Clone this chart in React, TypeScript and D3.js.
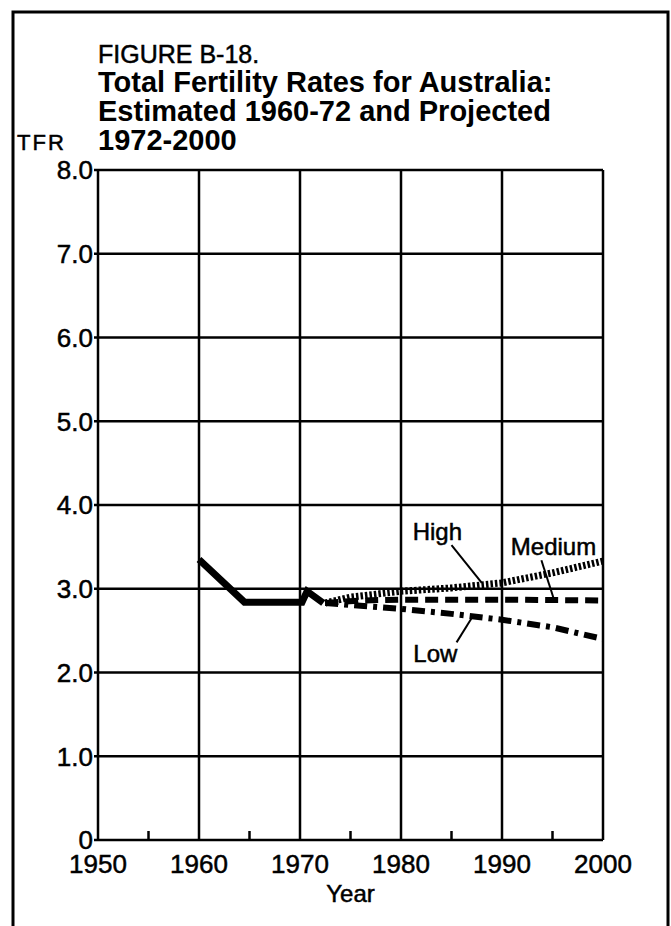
import React from 'react';
import * as d3 from 'd3';

const xTicks = [1950, 1960, 1970, 1980, 1990, 2000];
const xMinorTicks = [1955, 1965, 1975, 1985, 1995];
const yTicks = [0, 1, 2, 3, 4, 5, 6, 7, 8];

// estimated 1960-72
const estYears = [1960, 1964.5, 1970.2, 1970.7, 1972.3];
const estTFR = [3.35, 2.84, 2.84, 2.97, 2.83];

// projections 1972-2000
const highYears = [1972.5, 1975, 1980, 1985, 1990, 1995, 2000];
const highTFR = [2.83, 2.9, 2.97, 3.01, 3.07, 3.19, 3.33];
const medYears = [1972.5, 1976, 1980, 1990, 2000];
const medTFR = [2.83, 2.86, 2.87, 2.87, 2.86];
const lowYears = [1972.5, 1980, 1985, 1990, 1995, 2000];
const lowTFR = [2.83, 2.76, 2.7, 2.63, 2.54, 2.4];

// series labels: text position and leader line (year, tfr)
const labelNames = ['High', 'Medium', 'Low'];
const labelAt = [[1983.6, 3.58], [1995.1, 3.4], [1983.4, 2.12]];
const leaderFrom = [[1985.0, 3.52], [1993.9, 3.34], [1985.5, 2.36]];
const leaderTo = [[1988.0, 3.07], [1995.1, 2.89], [1987.0, 2.65]];

const titleLines = ['Total Fertility Rates for Australia:', 'Estimated 1960-72 and Projected', '1972-2000'];

const font = '"Liberation Sans", Arial, Helvetica, sans-serif';

const App = () => {
  const width = 671;
  const height = 926;
  const margin = { top: 170, left: 98, right: 68, bottom: 86 };

  const x = d3.scaleLinear().domain([1950, 2000]).range([margin.left, width - margin.right]);
  const y = d3.scaleLinear().domain([0, 8]).range([height - margin.bottom, margin.top]);

  const lineGen = d3.line<[number, number]>()
    .x(d => x(d[0]))
    .y(d => y(d[1]));

  const zip = (xs: number[], ys: number[]) => xs.map((v, i) => [v, ys[i]] as [number, number]);

  const series = [
    { pts: zip(estYears, estTFR), w: 7, dash: null },
    { pts: zip(lowYears, lowTFR), w: 6, dash: '13,6,4,6' },
    { pts: zip(medYears, medTFR), w: 6, dash: '13,7' },
    { pts: zip(highYears, highTFR), w: 7, dash: '2.5,2' },
  ];

  const [x0, x1] = x.range();
  const [yb, yt] = y.range();

  // scanned print looks heavier than plain regular weight
  const ink = { fill: '#000', stroke: '#000', strokeWidth: 0.5 };

  return (
    <svg width={width} height={height} style={{ position: 'absolute', left: 0, top: 0, background: '#fff' }}
      fontFamily={font}>
      {/* outer frame */}
      <rect x={13} y={12} width={655} height={940} fill="none" stroke="#000" strokeWidth={3} />

      {/* title */}
      <text x={x0} y={63} fontSize={25} {...ink}>FIGURE B-18.</text>
      {titleLines.map((t, i) => (
        <text key={t} x={x0} y={92 + i * 29} fontSize={29} fontWeight="bold" fill="#000">{t}</text>
      ))}
      <text x={17} y={150} fontSize={22} letterSpacing={2} {...ink}>TFR</text>

      {/* grid */}
      {yTicks.map(t => (
        <line key={'h' + t} x1={x0 - 4} x2={x1} y1={y(t)} y2={y(t)} stroke="#000" strokeWidth={2.5} />
      ))}
      {xTicks.map(t => (
        <line key={'v' + t} x1={x(t)} x2={x(t)} y1={yb} y2={yt} stroke="#000" strokeWidth={2.5} />
      ))}
      {xMinorTicks.map(t => (
        <line key={'m' + t} x1={x(t)} x2={x(t)} y1={yb} y2={yb - 9} stroke="#000" strokeWidth={2.5} />
      ))}

      {/* y labels */}
      {yTicks.map(t => (
        <text key={'yl' + t} x={x0 - 5} y={y(t)} dy="0.36em" textAnchor="end" fontSize={26} {...ink}>
          {t === 0 ? '0' : t.toFixed(1)}
        </text>
      ))}
      {/* x labels */}
      {xTicks.map(t => (
        <text key={'xl' + t} x={x(t)} y={yb + 33} textAnchor="middle" fontSize={26} {...ink}>{t}</text>
      ))}
      <text x={(x0 + x1) / 2} y={yb + 62} textAnchor="middle" fontSize={24} {...ink}>Year</text>

      {/* series */}
      {series.map((s, i) => (
        <path key={i} d={lineGen(s.pts) || ''} fill="none" stroke="#000" strokeWidth={s.w}
          strokeDasharray={s.dash || undefined} strokeLinejoin="miter" />
      ))}

      {/* labels */}
      {labelNames.map((n, i) => (
        <g key={n}>
          <line x1={x(leaderFrom[i][0])} y1={y(leaderFrom[i][1])} x2={x(leaderTo[i][0])} y2={y(leaderTo[i][1])}
            stroke="#000" strokeWidth={2} />
          <text x={x(labelAt[i][0])} y={y(labelAt[i][1])} textAnchor="middle" fontSize={24} {...ink}>{n}</text>
        </g>
      ))}
    </svg>
  );
};

export default App;
